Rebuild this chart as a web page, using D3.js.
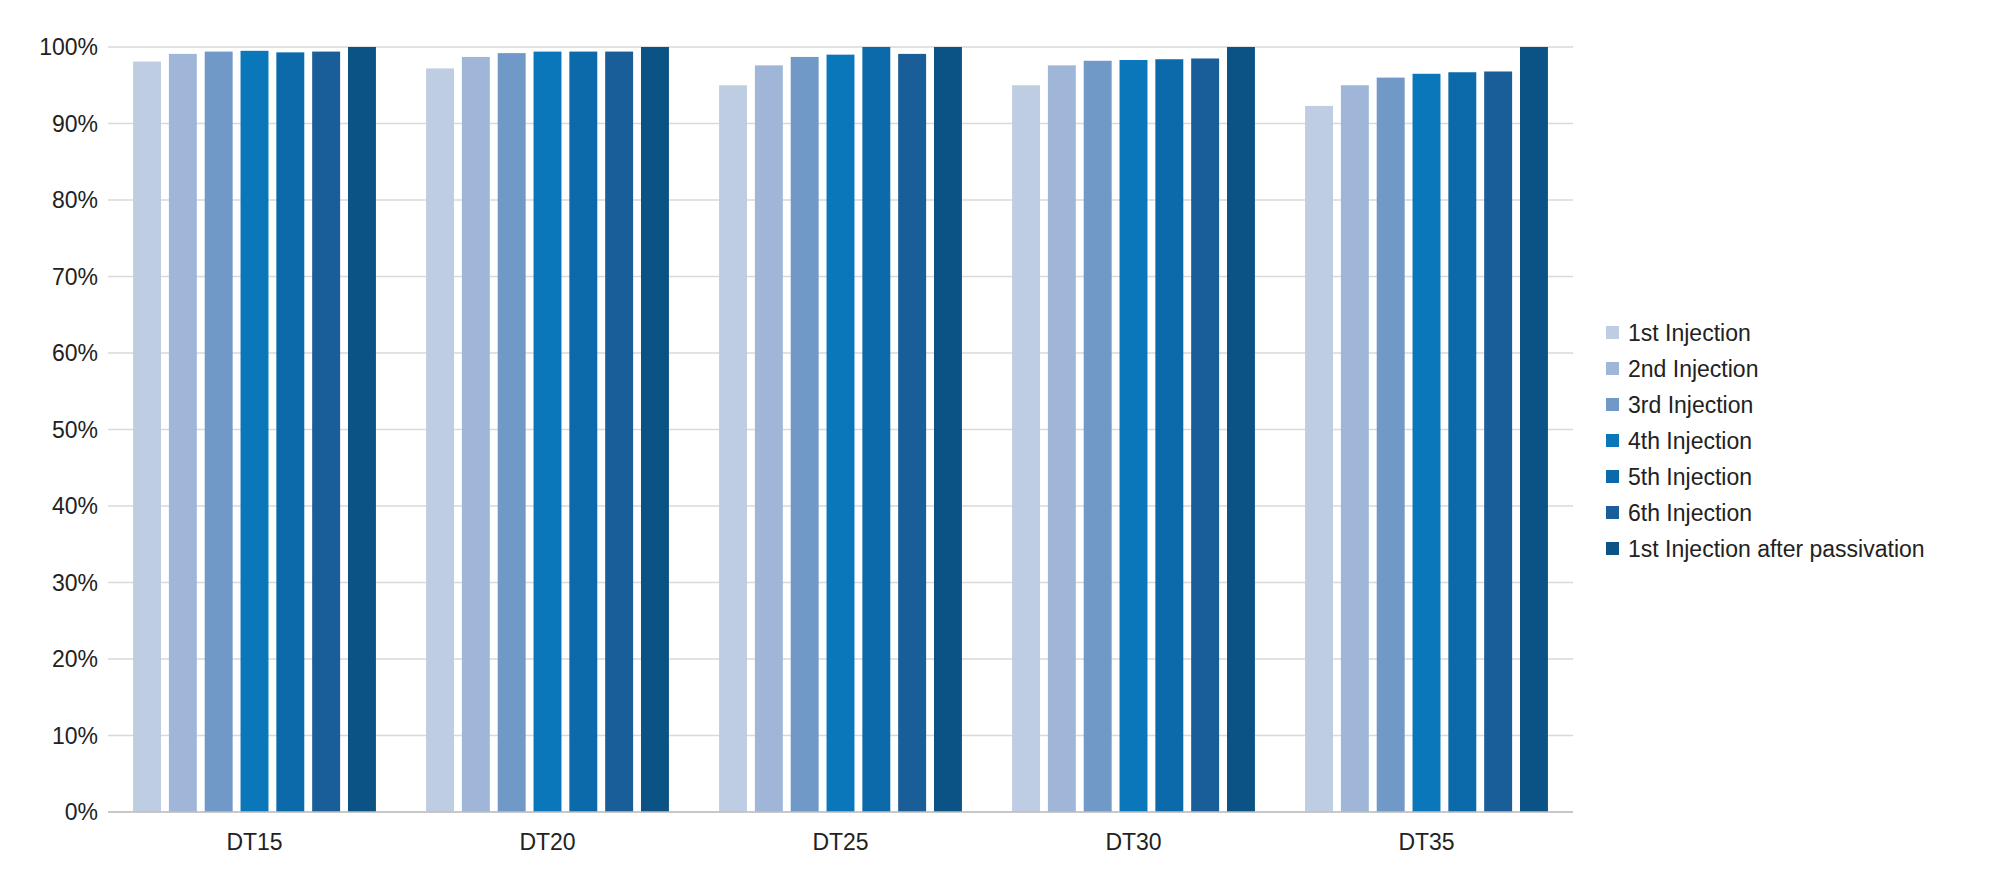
<!DOCTYPE html><html><head><meta charset="utf-8"><script src="https://cdn.jsdelivr.net/npm/d3@7"></script>
<style>body{margin:0;background:#fff}text{font-family:Arial,"Liberation Sans",sans-serif;fill:#222}</style></head><body><svg id="c" width="2000" height="896"></svg><script>
const categories=["DT15","DT20","DT25","DT30","DT35"];
const seriesNames=["1st Injection","2nd Injection","3rd Injection","4th Injection","5th Injection","6th Injection","1st Injection after passivation"];
const s1=[98.1,97.2,95.0,95.0,92.3];
const s2=[99.1,98.7,97.6,97.6,95.0];
const s3=[99.4,99.2,98.7,98.2,96.0];
const s4=[99.5,99.4,99.0,98.3,96.5];
const s5=[99.3,99.4,100,98.4,96.7];
const s6=[99.4,99.4,99.1,98.5,96.8];
const s7=[100,100,100,100,100];
const yTicks=[0,10,20,30,40,50,60,70,80,90,100];
const colors=["#bfcde3","#a0b6d8","#7099c8","#0a77bb","#0c6aab","#1a5e99","#0b5384"];
const series=[s1,s2,s3,s4,s5,s6,s7];
const svg=d3.select("#c");
const L=108,R=1573,T=47,B=812;
const x=d3.scaleBand().domain(categories).range([L,R]).paddingInner(0).paddingOuter(0);
const xi=d3.scaleBand().domain(d3.range(7)).range([0,x.bandwidth()]).paddingInner(0.22).paddingOuter(0.7);
const y=d3.scaleLinear().domain([0,100]).range([B,T]);
const g=svg.append("g");
g.selectAll("line.g").data(yTicks).join("line").attr("x1",L).attr("x2",R).attr("y1",d=>y(d)).attr("y2",d=>y(d)).attr("stroke","#d9d9d9").attr("stroke-width",1.3);
g.selectAll("text.y").data(yTicks).join("text").attr("x",L-10).attr("y",d=>y(d)).attr("dy","0.35em").attr("text-anchor","end").style("font-size","23px").text(d=>d+"%");
series.forEach((s,i)=>{
 g.selectAll(null).data(s).join("rect").attr("x",(d,j)=>x(categories[j])+xi(i)).attr("width",xi.bandwidth()).attr("y",d=>y(d)).attr("height",d=>B-y(d)).attr("fill",colors[i]);
});
g.append("line").attr("x1",L).attr("x2",R).attr("y1",B).attr("y2",B).attr("stroke","#bfbfbf").attr("stroke-width",1.5);
g.selectAll("text.x").data(categories).join("text").attr("x",d=>x(d)+x.bandwidth()/2).attr("y",B+38).attr("text-anchor","middle").style("font-size","23px").text(d=>d);
const lg=svg.append("g").attr("transform","translate(1606,333)");
seriesNames.forEach((n,i)=>{
 lg.append("rect").attr("x",0).attr("y",i*36-7).attr("width",13).attr("height",13).attr("fill",colors[i]);
 lg.append("text").attr("x",22).attr("y",i*36).attr("dy","0.35em").style("font-size","23px").text(n);
});
</script></body></html>
